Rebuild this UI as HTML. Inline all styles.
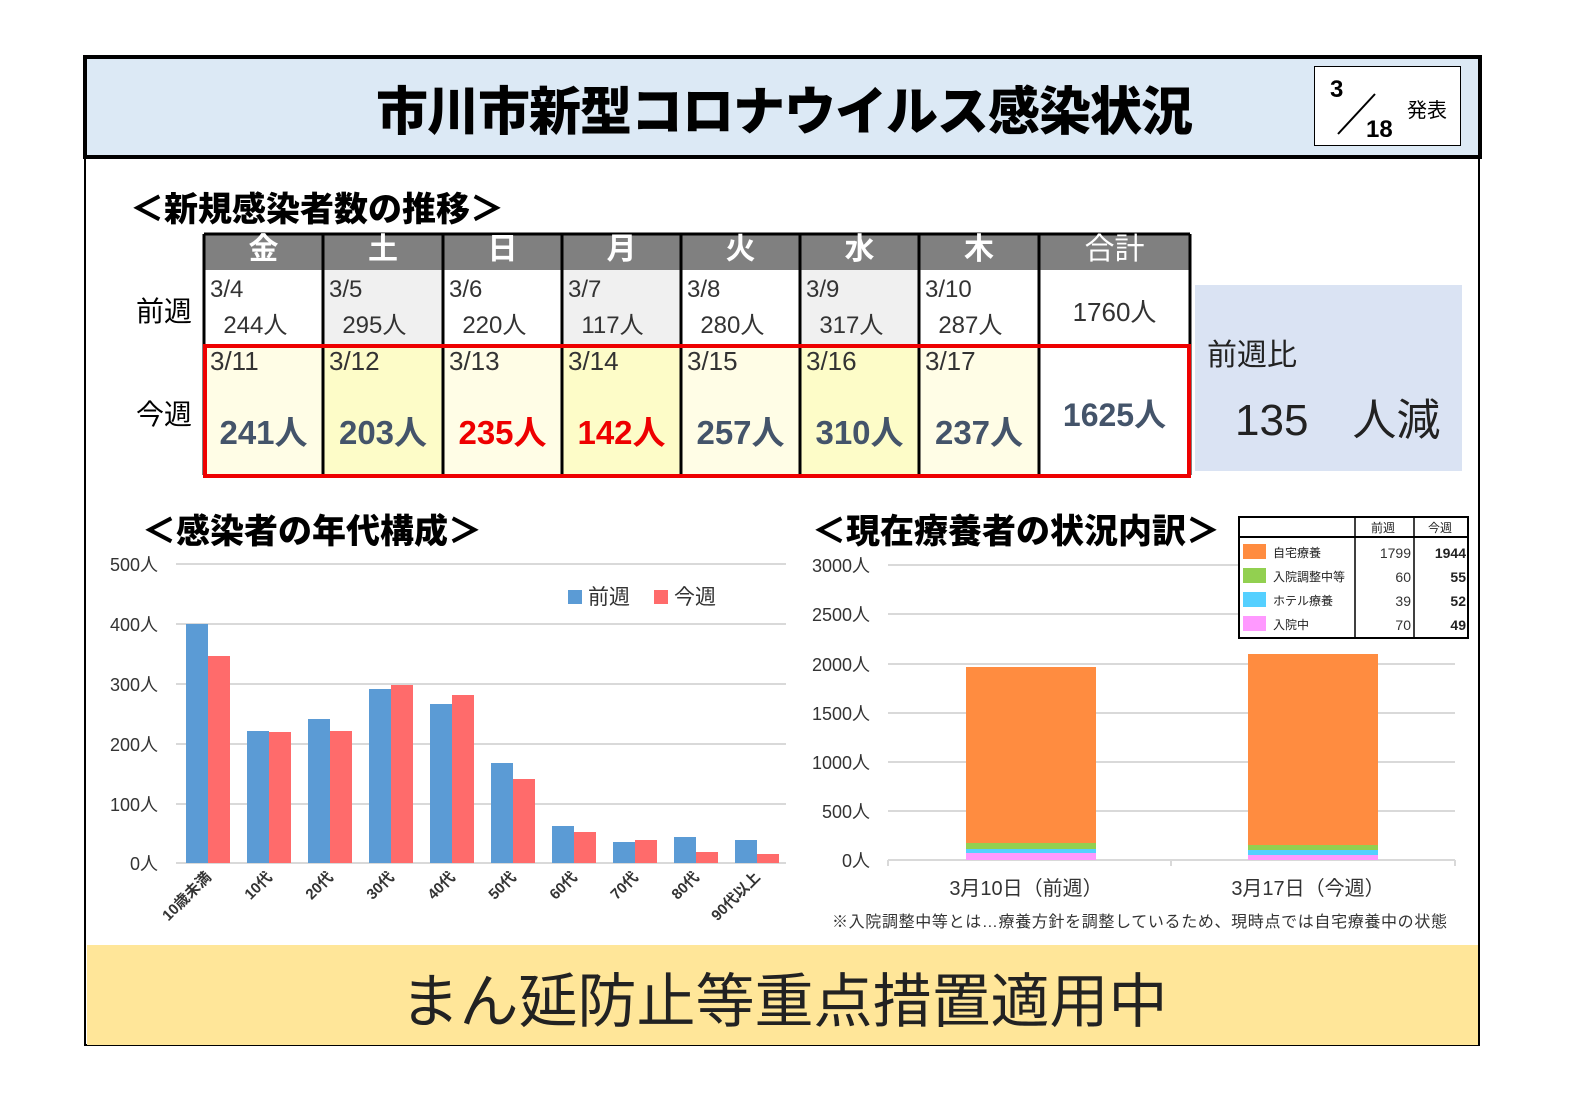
<!DOCTYPE html>
<html><head><meta charset="utf-8"><style>
body{margin:0;width:1570px;height:1110px;background:#fff;position:relative;overflow:hidden;font-family:"Liberation Sans","Noto Sans CJK JP",sans-serif}
.a{position:absolute}
.c{position:absolute;text-align:center}
</style></head><body>
<div class="a" style="left:84px;top:56px;width:1392px;height:988px;border:2px solid #000;border-top:none"></div>
<div class="a" style="left:83px;top:55px;width:1391px;height:96px;border:4px solid #000;background:#dce9f5"></div>
<div class="c" style="left:84px;width:1400px;top:70px;font-size:52px;font-weight:900;letter-spacing:-1px">市川市新型コロナウイルス感染状況</div>
<div class="a" style="left:1314px;top:66px;width:145px;height:78px;border:1px solid #000;background:#fff"></div>
<div class="a" style="left:1330px;top:76px;font-size:24px;font-weight:bold">3</div>
<div class="a" style="left:1366px;top:116px;font-size:24px;font-weight:bold">18</div>
<svg class="a" style="left:1335px;top:92px" width="50" height="45"><line x1="3" y1="42" x2="40" y2="2" stroke="#000" stroke-width="2"/></svg>
<div class="a" style="left:1407px;top:94px;font-size:20px">発表</div>

<div class="a" style="left:130px;top:182px;font-size:34px;font-weight:900">＜新規感染者数の推移＞</div>
<svg class="a" style="left:0;top:0" width="1570" height="1110">
<rect x="204" y="234" width="986" height="36" fill="#808080"/>
<rect x="204" y="270" width="986" height="75" fill="#fff"/>
<rect x="323" y="270" width="120" height="75" fill="#f0f0f0"/>
<rect x="562" y="270" width="119" height="75" fill="#f0f0f0"/>
<rect x="800" y="270" width="119" height="75" fill="#f0f0f0"/>
<rect x="204" y="345" width="835" height="130" fill="#fffde6"/>
<rect x="323" y="345" width="120" height="130" fill="#fdfcc8"/>
<rect x="562" y="345" width="119" height="130" fill="#fdfcc8"/>
<rect x="800" y="345" width="119" height="130" fill="#fdfcc8"/>
<g stroke="#000" stroke-width="3">
<line x1="204" y1="234" x2="1190" y2="234"/>
<line x1="204" y1="234" x2="204" y2="475"/><line x1="323" y1="234" x2="323" y2="475"/><line x1="443" y1="234" x2="443" y2="475"/><line x1="562" y1="234" x2="562" y2="475"/><line x1="681" y1="234" x2="681" y2="475"/><line x1="800" y1="234" x2="800" y2="475"/><line x1="919" y1="234" x2="919" y2="475"/><line x1="1039" y1="234" x2="1039" y2="475"/><line x1="1190" y1="234" x2="1190" y2="475"/>
</g>
<rect x="205" y="346" width="984" height="130" fill="none" stroke="#e00" stroke-width="4"/>
<rect x="1195" y="285" width="267" height="186" fill="#dae3f3"/>
</svg>
<div class="a" style="left:204px;top:230px;width:986px;font-size:30px;line-height:40px;font-weight:bold;color:#fff;display:flex">
<div style="width:119px;text-align:center">金</div><div style="width:120px;text-align:center">土</div><div style="width:119px;text-align:center">日</div><div style="width:119px;text-align:center">月</div><div style="width:119px;text-align:center">火</div><div style="width:119px;text-align:center">水</div><div style="width:120px;text-align:center">木</div><div style="width:151px;text-align:center;font-weight:normal">合計</div></div>
<div class="a" style="left:136px;top:290px;font-size:28px">前週</div>
<div class="a" style="left:136px;top:393px;font-size:28px">今週</div>
<div class="a" style="left:210px;top:272px;font-size:24px;color:#333;line-height:36px">3/4<br>&nbsp;&nbsp;244人</div>
<div class="a" style="left:329px;top:272px;font-size:24px;color:#333;line-height:36px">3/5<br>&nbsp;&nbsp;295人</div>
<div class="a" style="left:449px;top:272px;font-size:24px;color:#333;line-height:36px">3/6<br>&nbsp;&nbsp;220人</div>
<div class="a" style="left:568px;top:272px;font-size:24px;color:#333;line-height:36px">3/7<br>&nbsp;&nbsp;117人</div>
<div class="a" style="left:687px;top:272px;font-size:24px;color:#333;line-height:36px">3/8<br>&nbsp;&nbsp;280人</div>
<div class="a" style="left:806px;top:272px;font-size:24px;color:#333;line-height:36px">3/9<br>&nbsp;&nbsp;317人</div>
<div class="a" style="left:925px;top:272px;font-size:24px;color:#333;line-height:36px">3/10<br>&nbsp;&nbsp;287人</div>
<div class="c" style="left:1039px;width:151px;top:292px;font-size:26px;color:#333">1760人</div>
<div class="a" style="left:210px;top:346px;font-size:26px;color:#333">3/11</div>
<div class="a" style="left:329px;top:346px;font-size:26px;color:#333">3/12</div>
<div class="a" style="left:449px;top:346px;font-size:26px;color:#333">3/13</div>
<div class="a" style="left:568px;top:346px;font-size:26px;color:#333">3/14</div>
<div class="a" style="left:687px;top:346px;font-size:26px;color:#333">3/15</div>
<div class="a" style="left:806px;top:346px;font-size:26px;color:#333">3/16</div>
<div class="a" style="left:925px;top:346px;font-size:26px;color:#333">3/17</div>
<div class="a" style="left:204px;top:406px;width:835px;display:flex;font-size:33px;font-weight:bold;color:#44546a">
<div style="width:119px;text-align:center">241人</div><div style="width:120px;text-align:center">203人</div><div style="width:119px;text-align:center;color:#e00">235人</div><div style="width:119px;text-align:center;color:#e00">142人</div><div style="width:119px;text-align:center">257人</div><div style="width:119px;text-align:center">310人</div><div style="width:120px;text-align:center">237人</div></div>
<div class="c" style="left:1039px;width:151px;top:390px;font-size:32px;font-weight:bold;color:#44546a">1625人</div>
<div class="a" style="left:1207px;top:330px;font-size:30px;color:#222">前週比</div>
<div class="a" style="left:1235px;top:384px;font-size:44px;color:#222">135　人減</div>

<div class="a" style="left:142px;top:504px;font-size:34px;font-weight:900">＜感染者の年代構成＞</div>
<div class="a" style="left:812px;top:504px;font-size:34px;font-weight:900">＜現在療養者の状況内訳＞</div>

<svg class="a" style="left:0;top:0" width="1570" height="1110" font-family="Liberation Sans,Noto Sans CJK JP,sans-serif">
<g stroke="#d9d9d9" stroke-width="2">
<line x1="176" y1="564" x2="786" y2="564"/><line x1="176" y1="624" x2="786" y2="624"/><line x1="176" y1="684" x2="786" y2="684"/><line x1="176" y1="744" x2="786" y2="744"/><line x1="176" y1="804" x2="786" y2="804"/><line x1="176" y1="863" x2="786" y2="863"/>
</g>
<g font-size="18" fill="#333" text-anchor="end">
<text x="158" y="571">500人</text><text x="158" y="631">400人</text><text x="158" y="691">300人</text><text x="158" y="751">200人</text><text x="158" y="811">100人</text><text x="158" y="870">0人</text>
</g>
<g fill="#5b9bd5">
<rect x="186" y="624" width="22" height="239"/><rect x="247" y="731" width="22" height="132"/><rect x="308" y="719" width="22" height="144"/><rect x="369" y="689" width="22" height="174"/><rect x="430" y="704" width="22" height="159"/><rect x="491" y="763" width="22" height="100"/><rect x="552" y="826" width="22" height="37"/><rect x="613" y="842" width="22" height="21"/><rect x="674" y="837" width="22" height="26"/><rect x="735" y="840" width="22" height="23"/>
</g>
<g fill="#ff6b6b">
<rect x="208" y="656" width="22" height="207"/><rect x="269" y="732" width="22" height="131"/><rect x="330" y="731" width="22" height="132"/><rect x="391" y="685" width="22" height="178"/><rect x="452" y="695" width="22" height="168"/><rect x="513" y="779" width="22" height="84"/><rect x="574" y="832" width="22" height="31"/><rect x="635" y="840" width="22" height="23"/><rect x="696" y="852" width="22" height="11"/><rect x="757" y="854" width="22" height="9"/>
</g>
<rect x="568" y="590" width="14" height="14" fill="#5b9bd5"/><text x="588" y="604" font-size="21" fill="#333">前週</text>
<rect x="654" y="590" width="14" height="14" fill="#ff6b6b"/><text x="674" y="604" font-size="21" fill="#333">今週</text>
<g font-size="15" font-weight="bold" fill="#333" text-anchor="end">
<text transform="translate(212,878) rotate(-45)">10歳未満</text>
<text transform="translate(273,878) rotate(-45)">10代</text>
<text transform="translate(334,878) rotate(-45)">20代</text>
<text transform="translate(395,878) rotate(-45)">30代</text>
<text transform="translate(456,878) rotate(-45)">40代</text>
<text transform="translate(517,878) rotate(-45)">50代</text>
<text transform="translate(578,878) rotate(-45)">60代</text>
<text transform="translate(639,878) rotate(-45)">70代</text>
<text transform="translate(700,878) rotate(-45)">80代</text>
<text transform="translate(761,878) rotate(-45)">90代以上</text>
</g>

<g stroke="#d9d9d9" stroke-width="2">
<line x1="888" y1="565" x2="1455" y2="565"/><line x1="888" y1="614" x2="1455" y2="614"/><line x1="888" y1="664" x2="1455" y2="664"/><line x1="888" y1="713" x2="1455" y2="713"/><line x1="888" y1="762" x2="1455" y2="762"/><line x1="888" y1="811" x2="1455" y2="811"/><line x1="888" y1="860" x2="1455" y2="860"/>
<line x1="888" y1="860" x2="888" y2="866"/><line x1="1171" y1="860" x2="1171" y2="866"/><line x1="1455" y1="860" x2="1455" y2="866"/>
</g>
<g font-size="18" fill="#333" text-anchor="end">
<text x="870" y="572">3000人</text><text x="870" y="621">2500人</text><text x="870" y="671">2000人</text><text x="870" y="720">1500人</text><text x="870" y="769">1000人</text><text x="870" y="818">500人</text><text x="870" y="867">0人</text>
</g>
<rect x="966" y="667" width="130" height="193" fill="#ff8c40"/>
<rect x="966" y="843" width="130" height="6" fill="#92d050"/>
<rect x="966" y="849" width="130" height="4" fill="#55d0ff"/>
<rect x="966" y="853" width="130" height="7" fill="#ff99ff"/>
<rect x="1248" y="654" width="130" height="206" fill="#ff8c40"/>
<rect x="1248" y="845" width="130" height="5" fill="#92d050"/>
<rect x="1248" y="850" width="130" height="5" fill="#55d0ff"/>
<rect x="1248" y="855" width="130" height="5" fill="#ff99ff"/>
<text x="1026" y="895" font-size="20" fill="#333" text-anchor="middle">3月10日（前週）</text>
<text x="1308" y="895" font-size="20" fill="#333" text-anchor="middle">3月17日（今週）</text>
<text x="832" y="927" font-size="16" fill="#333" textLength="615">※入院調整中等とは…療養方針を調整しているため、現時点では自宅療養中の状態</text>

<rect x="1239" y="517" width="229" height="121" fill="#fff" stroke="#000" stroke-width="2"/>
<line x1="1239" y1="537" x2="1468" y2="537" stroke="#000" stroke-width="2"/>
<line x1="1355" y1="517" x2="1355" y2="638" stroke="#000" stroke-width="1.5"/>
<line x1="1414" y1="517" x2="1414" y2="638" stroke="#000" stroke-width="1.5"/>
<g font-size="12" fill="#222">
<text x="1371" y="532">前週</text><text x="1428" y="532">今週</text>
<rect x="1243" y="544" width="23" height="15" fill="#ff8c40"/><text x="1273" y="557">自宅療養</text>
<rect x="1243" y="568" width="23" height="15" fill="#92d050"/><text x="1273" y="581">入院調整中等</text>
<rect x="1243" y="592" width="23" height="15" fill="#55d0ff"/><text x="1273" y="605">ホテル療養</text>
<rect x="1243" y="616" width="23" height="15" fill="#ff99ff"/><text x="1273" y="629">入院中</text>
</g>
<g font-size="14" fill="#333" text-anchor="end">
<text x="1411" y="558">1799</text><text x="1411" y="582">60</text><text x="1411" y="606">39</text><text x="1411" y="630">70</text>
</g>
<g font-size="14" font-weight="bold" fill="#222" text-anchor="end">
<text x="1466" y="558">1944</text><text x="1466" y="582">55</text><text x="1466" y="606">52</text><text x="1466" y="630">49</text>
</g>
</svg>

<div class="a" style="left:87px;top:945px;width:1391px;height:100px;background:#ffe699"></div>
<div class="c" style="left:84px;width:1400px;top:954px;font-size:59px;color:#222">まん延防止等重点措置適用中</div>
</body></html>
